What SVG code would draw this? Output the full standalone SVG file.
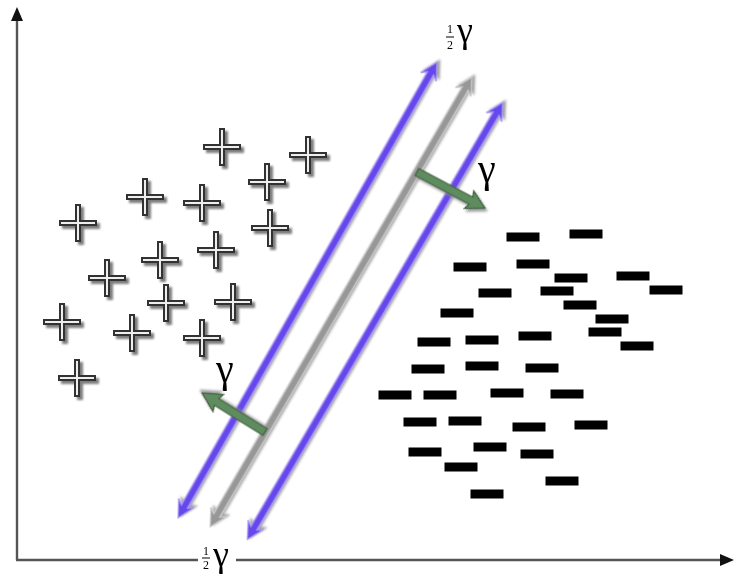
<svg xmlns="http://www.w3.org/2000/svg" xmlns:xlink="http://www.w3.org/1999/xlink" width="754" height="578" viewBox="0 0 754 578">
<style>
.axis{stroke:#555;stroke-width:2.4;fill:none}
.ahead{fill:#111}
.plus{fill:#eeeeee;stroke:#333;stroke-width:2}
.dash{fill:#000}
.blue{fill:#6646ec;stroke:#a898f2;stroke-width:1.3}
.gray{fill:#979797;stroke:#c8c8c8;stroke-width:1.3}
.green{fill:#5f8c5f;stroke:#3d5e3d;stroke-width:1.2}
.g{font-family:"Liberation Serif","DejaVu Serif",serif;fill:#000}
</style>
<defs>
<filter id="sh" x="-20%" y="-20%" width="150%" height="150%">
<feDropShadow dx="3" dy="3" stdDeviation="1.3" flood-color="#666" flood-opacity="0.85"/>
</filter>
<filter id="sh2" x="-10%" y="-10%" width="130%" height="130%">
<feDropShadow dx="3" dy="1.5" stdDeviation="1.3" flood-color="#888" flood-opacity="0.8"/>
</filter>
<path id="plus" class="plus" d="M-2,-18 H2 V-2 H18 V2 H2 V18 H-2 V2 H-18 V-2 H-2 Z"/>
<rect id="dash" class="dash" x="-16.5" y="-4.5" width="33" height="9"/>
</defs>
<rect width="754" height="578" fill="#fff"/>

<g id="axes">
<line class="axis" x1="17" y1="560" x2="17" y2="20"/>
<polygon class="ahead" points="17,7 11,21 23,21"/>
<line class="axis" x1="16" y1="560" x2="198" y2="560"/>
<line class="axis" x1="236" y1="560" x2="722" y2="560"/>
<polygon class="ahead" points="734,560 720,554 720,566"/>
</g>

<g id="plus-points" filter="url(#sh)">
<g id="p1"><use href="#plus" x="222" y="147"/></g>
<g id="p2"><use href="#plus" x="308" y="155"/></g>
<g id="p3"><use href="#plus" x="267" y="182"/></g>
<g id="p4"><use href="#plus" x="145" y="197"/></g>
<g id="p5"><use href="#plus" x="202" y="203"/></g>
<g id="p6"><use href="#plus" x="78" y="223"/></g>
<g id="p7"><use href="#plus" x="270" y="228"/></g>
<g id="p8"><use href="#plus" x="216" y="250"/></g>
<g id="p9"><use href="#plus" x="160" y="260"/></g>
<g id="p10"><use href="#plus" x="107" y="278"/></g>
<g id="p11"><use href="#plus" x="166" y="303"/></g>
<g id="p12"><use href="#plus" x="233" y="302"/></g>
<g id="p13"><use href="#plus" x="62" y="322"/></g>
<g id="p14"><use href="#plus" x="132" y="333"/></g>
<g id="p15"><use href="#plus" x="202" y="338"/></g>
<g id="p16"><use href="#plus" x="77" y="378"/></g>
</g>

<g id="minus-points">
<g id="m1"><use href="#dash" x="523" y="237"/></g>
<g id="m2"><use href="#dash" x="586" y="234"/></g>
<g id="m3"><use href="#dash" x="470" y="267"/></g>
<g id="m4"><use href="#dash" x="533" y="264"/></g>
<g id="m5"><use href="#dash" x="571" y="278"/></g>
<g id="m6"><use href="#dash" x="633" y="276"/></g>
<g id="m7"><use href="#dash" x="495" y="293"/></g>
<g id="m8"><use href="#dash" x="557" y="291"/></g>
<g id="m9"><use href="#dash" x="666" y="290"/></g>
<g id="m10"><use href="#dash" x="457" y="313"/></g>
<g id="m11"><use href="#dash" x="580" y="305"/></g>
<g id="m12"><use href="#dash" x="612" y="319"/></g>
<g id="m13"><use href="#dash" x="605" y="332"/></g>
<g id="m14"><use href="#dash" x="434" y="342"/></g>
<g id="m15"><use href="#dash" x="482" y="340"/></g>
<g id="m16"><use href="#dash" x="535" y="336"/></g>
<g id="m17"><use href="#dash" x="637" y="346"/></g>
<g id="m18"><use href="#dash" x="428" y="369"/></g>
<g id="m19"><use href="#dash" x="482" y="366"/></g>
<g id="m20"><use href="#dash" x="542" y="368"/></g>
<g id="m21"><use href="#dash" x="395" y="395"/></g>
<g id="m22"><use href="#dash" x="440" y="395"/></g>
<g id="m23"><use href="#dash" x="507" y="393"/></g>
<g id="m24"><use href="#dash" x="567" y="394"/></g>
<g id="m25"><use href="#dash" x="420" y="422"/></g>
<g id="m26"><use href="#dash" x="465" y="421"/></g>
<g id="m27"><use href="#dash" x="529" y="427"/></g>
<g id="m28"><use href="#dash" x="591" y="425"/></g>
<g id="m29"><use href="#dash" x="425" y="452"/></g>
<g id="m30"><use href="#dash" x="490" y="447"/></g>
<g id="m31"><use href="#dash" x="537" y="454"/></g>
<g id="m32"><use href="#dash" x="461" y="467"/></g>
<g id="m33"><use href="#dash" x="562" y="481"/></g>
<g id="m34"><use href="#dash" x="487" y="494"/></g>
</g>

<g id="connectors">
<g id="margin-left" transform="translate(307.5,290) rotate(-60.4)" filter="url(#sh2)">
<polygon class="blue" points="-262,0 -245,-9 -249,-3.5 249,-3.5 245,-9 262,0 245,9 249,3.5 -249,3.5 -245,9"/>
</g>
<g id="hyperplane" transform="translate(341,302) rotate(-59.8)" filter="url(#sh2)">
<polygon class="gray" points="-260,0 -243,-9 -247,-3.5 247,-3.5 243,-9 260,0 243,9 247,3.5 -247,3.5 -243,9"/>
</g>
<g id="margin-right" transform="translate(375,321) rotate(-59.7)" filter="url(#sh2)">
<polygon class="blue" points="-253,0 -236,-9 -240,-3.5 240,-3.5 236,-9 253,0 236,9 240,3.5 -240,3.5 -236,9"/>
</g>
<g id="gamma-arrow-right" transform="translate(417,172) rotate(28)" filter="url(#sh2)">
<polygon class="green" points="0,-4 61,-4 59,-10 77,0 59,10 61,4 0,4"/>
</g>
<g id="gamma-arrow-left" transform="translate(265,432) rotate(211.8)" filter="url(#sh2)">
<polygon class="green" points="0,-4 57,-4 55,-10 74,0 55,10 57,4 0,4"/>
</g>
</g>

<g id="labels">
<g id="label-top">
<text class="g" x="450" y="33" font-size="12" text-anchor="middle">1</text>
<line x1="446" y1="37" x2="454" y2="37" stroke="#000" stroke-width="1"/>
<text class="g" x="450" y="49" font-size="12" text-anchor="middle">2</text>
<text class="g" x="457" y="42" font-size="36">γ</text>
</g>
<text id="label-gamma-right" class="g" x="478" y="182" font-size="40">γ</text>
<text id="label-gamma-left" class="g" x="216" y="382" font-size="40">γ</text>
<g id="label-bottom">
<text class="g" x="206" y="555" font-size="12" text-anchor="middle">1</text>
<line x1="202" y1="558" x2="210" y2="558" stroke="#000" stroke-width="1"/>
<text class="g" x="206" y="569" font-size="12" text-anchor="middle">2</text>
<text class="g" x="213" y="566" font-size="36">γ</text>
</g>
</g>
</svg>
